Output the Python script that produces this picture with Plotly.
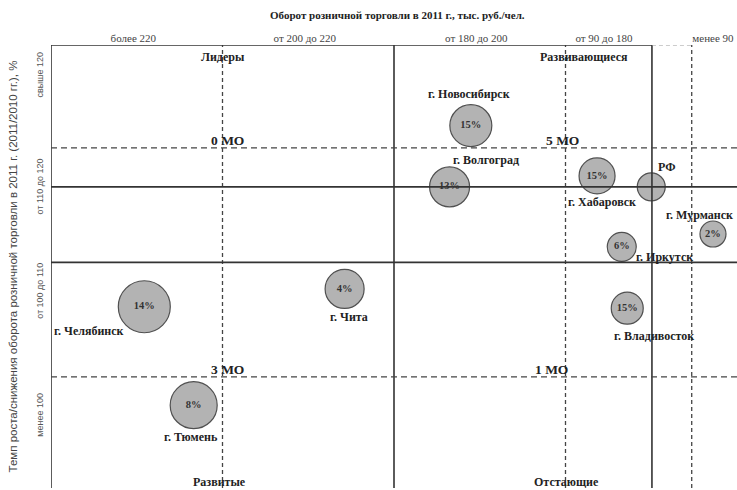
import plotly.graph_objects as go

# ---- data (schematic positions on a 0-100 grid) ----
cities = ["г. Новосибирск", "г. Волгоград", "г. Хабаровск", "РФ", "г. Мурманск",
          "г. Иркутск", "г. Владивосток", "г. Челябинск", "г. Чита", "г. Тюмень"]
x_pos = [61.2, 58.1, 79.6, 87.5, 96.5, 83.2, 84.0, 13.6, 42.8, 20.8]
y_pos = [79.9, 66.5, 68.9, 66.5, 56.2, 53.4, 40.0, 40.3, 44.2, 18.8]
bubble_size = [42, 40, 36, 28, 26, 29, 32, 52, 39, 47]
share_text = ["15%", "13%", "15%", "", "2%", "6%", "15%", "14%", "4%", "8%"]
# label offsets in pixels (dx, dy) from bubble centre
label_dx = [-2, 36, 5, 15, -13, 43, 27, -55, 4, -3]
label_dy = [-32, -27, 26, -20, -19, 10, 28, 24, 28, 32]

x_tick_vals = [12.0, 37.0, 62.0, 80.6, 96.5]
x_tick_text = ["более 220", "от 200 до 220", "от 180 до 200", "от 90 до 180", "менее 90"]
y_tick_vals = [90.7, 66.3, 43.5, 16.4]
y_tick_text = ["свыше 120", "от 110 до 120", "от 100 до 110", "менее 100"]

x_solid = [0, 50, 87.6]
x_dashed = [25, 75, 93.4]
y_solid = [50, 66.5]
y_dashed = [25, 75]

quadrants = ["Лидеры", "Развивающиеся", "Развитые", "Отстающие"]
quad_x = [25.0, 77.7, 24.6, 75.2]
quad_y = [94.9, 94.9, 2.0, 2.0]

mo_text = ["0 МО", "5 МО", "3 МО", "1 МО"]
mo_x = [25.8, 74.5, 25.8, 73.0]
mo_y = [75.0, 75.0, 25.0, 25.0]

X_RANGE = [0, 100]
Y_RANGE = [0.7, 97.5]

SERIF = "Liberation Serif"
SANS = "Liberation Sans"

fig = go.Figure()

fig.add_trace(go.Scatter(
    x=x_pos, y=y_pos, mode="markers+text",
    text=["<b>" + t + "</b>" if t else "" for t in share_text], textposition="middle center",
    textfont=dict(family=SERIF, size=10.5, color="#333"),
    marker=dict(size=bubble_size, sizemode="diameter", color="#b3b3b3", opacity=1,
                line=dict(color="#505050", width=1.2)),
    hoverinfo="skip", showlegend=False, cliponaxis=False,
))

shapes = []
for xv in x_solid:
    shapes.append(dict(type="line", xref="x", yref="y", x0=xv, x1=xv,
                       y0=Y_RANGE[0], y1=Y_RANGE[1], line=dict(color="#333", width=1.6)))
for xv in x_dashed:
    shapes.append(dict(type="line", xref="x", yref="y", x0=xv, x1=xv,
                       y0=Y_RANGE[0], y1=Y_RANGE[1], line=dict(color="#444", width=1.3, dash="4px,3px")))
for yv in y_solid:
    shapes.append(dict(type="line", xref="x", yref="y", x0=X_RANGE[0], x1=X_RANGE[1],
                       y0=yv, y1=yv, line=dict(color="#333", width=1.6)))
for yv in y_dashed:
    shapes.append(dict(type="line", xref="x", yref="y", x0=X_RANGE[0], x1=X_RANGE[1],
                       y0=yv, y1=yv, line=dict(color="#444", width=1.2, dash="6px,4px")))
# top border
shapes.append(dict(type="line", xref="x", yref="y", x0=0, x1=x_solid[2],
                   y0=Y_RANGE[1], y1=Y_RANGE[1], line=dict(color="#333", width=1.6)))
shapes.append(dict(type="line", xref="x", yref="y", x0=x_solid[2], x1=x_dashed[2],
                   y0=Y_RANGE[1], y1=Y_RANGE[1], line=dict(color="#999", width=1, dash="4px,3px")))

annotations = []
for name, xv, yv, dx, dy in zip(cities, x_pos, y_pos, label_dx, label_dy):
    annotations.append(dict(x=xv, y=yv, xref="x", yref="y", text="<b>" + name + "</b>",
                            showarrow=False, xshift=dx, yshift=-dy,
                            font=dict(family=SERIF, size=12, color="#222")))
for t, xv, yv in zip(quadrants, quad_x, quad_y):
    annotations.append(dict(x=xv, y=yv, xref="x", yref="y", text="<b>" + t + "</b>",
                            showarrow=False, font=dict(family=SERIF, size=12, color="#222")))
for t, xv, yv in zip(mo_text, mo_x, mo_y):
    annotations.append(dict(x=xv, y=yv, xref="x", yref="y", text="<b>" + t + "</b>",
                            showarrow=False, yanchor="bottom", yshift=-2,
                            font=dict(family=SERIF, size=13.5, color="#222")))
annotations.append(dict(x=0.505, y=1.068, xref="paper", yref="paper",
                        xanchor="center", yanchor="middle",
                        text="<b>Оборот розничной торговли в 2011 г., тыс. руб./чел.</b>",
                        showarrow=False, font=dict(family=SERIF, size=11, color="#222")))
annotations.append(dict(x=-0.0555, y=0.50, xref="paper", yref="paper", textangle=-90,
                        xanchor="center", yanchor="middle",
                        text="Темп роста/снижения оборота розничной торговли в 2011 г. (2011/2010 гг.), %",
                        showarrow=False, font=dict(family=SANS, size=11.5, color="#444")))

fig.update_layout(
    width=737, height=490,
    margin=dict(l=51, r=0, t=45, b=2),
    paper_bgcolor="white", plot_bgcolor="white",
    shapes=shapes, annotations=annotations,
    xaxis=dict(range=X_RANGE, side="top", tickvals=x_tick_vals, ticktext=x_tick_text,
               showgrid=False, zeroline=False, showline=False, ticks="", automargin=False,
               tickfont=dict(family=SERIF, size=11, color="#444"), fixedrange=True),
    yaxis=dict(range=Y_RANGE, tickvals=y_tick_vals, ticktext=y_tick_text, tickangle=-90,
               showgrid=False, zeroline=False, showline=False, ticks="", automargin=False,
               ticklabelstandoff=5,
               tickfont=dict(family=SANS, size=9, color="#555"), fixedrange=True),
)

fig.write_html("out.html", config={"displayModeBar": False},
               post_script="document.body.style.margin='0';")
